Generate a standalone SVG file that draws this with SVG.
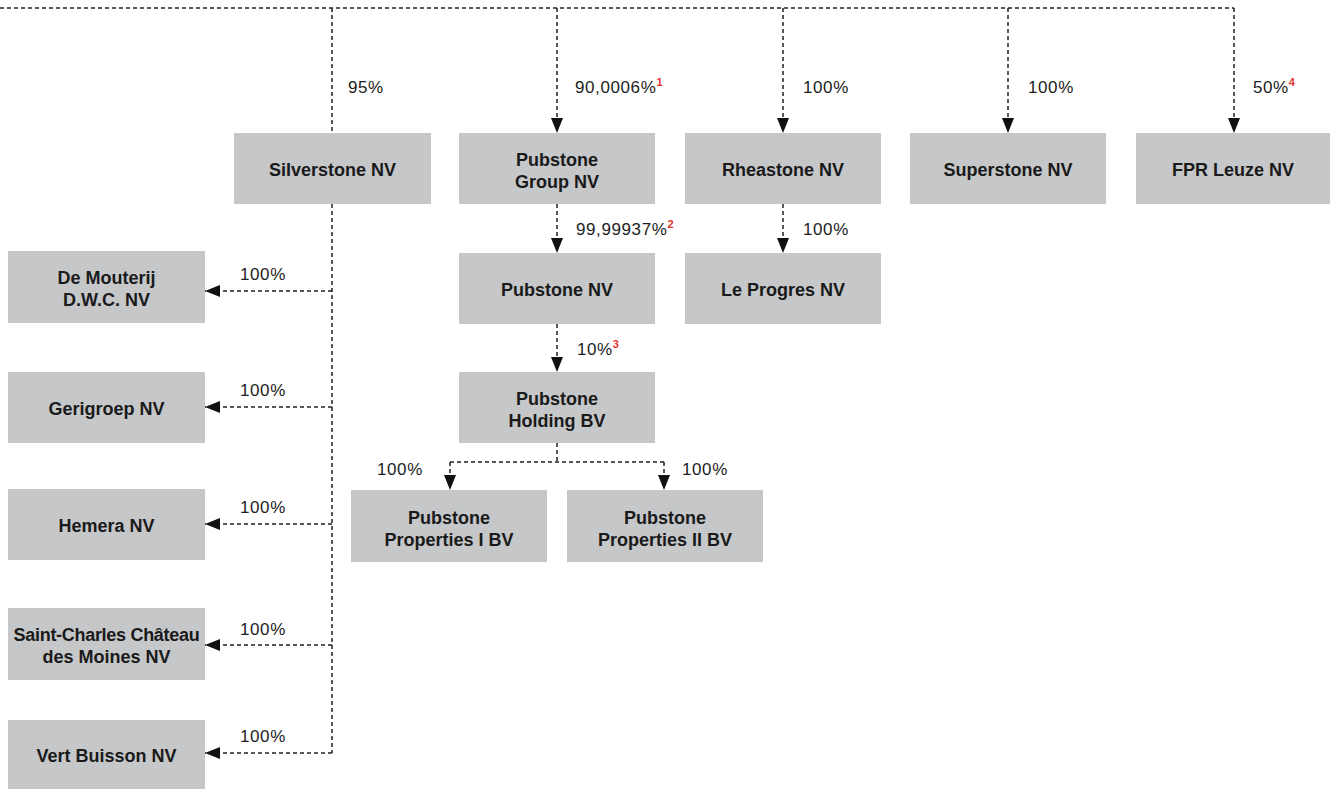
<svg xmlns="http://www.w3.org/2000/svg" width="1330" height="789" viewBox="0 0 1330 789">
<style>
.box{fill:#c6c7c9}
.name{font-family:"Liberation Sans",Arial,sans-serif;font-weight:bold;font-size:18px;fill:#1a1a1a;text-anchor:middle}
.pct{font-family:"Liberation Sans",Arial,sans-serif;font-size:17px;fill:#222;letter-spacing:0.6px}
.sup{font-size:11px;fill:#e3312d;font-weight:bold}
.ln{fill:none;stroke:#222;stroke-width:1.5;stroke-dasharray:4 3}
</style>
<defs>
<marker id="ah" viewBox="0 0 15 12" refX="15" refY="6" markerWidth="15" markerHeight="12" markerUnits="userSpaceOnUse" orient="auto">
<path d="M0,0 L15,6 L0,12 Z" fill="#111"/>
</marker>
</defs>
<rect width="1330" height="789" fill="#fff"/>
<g id="connectors">
<path class="ln" d="M0,8 H1234"/>
<path class="ln" d="M332,8 V133"/>
<path class="ln" d="M557,8 V133" marker-end="url(#ah)"/>
<path class="ln" d="M783,8 V133" marker-end="url(#ah)"/>
<path class="ln" d="M1008,8 V133" marker-end="url(#ah)"/>
<path class="ln" d="M1234,8 V133" marker-end="url(#ah)"/>
<path class="ln" d="M557,204 V253" marker-end="url(#ah)"/>
<path class="ln" d="M783,204 V253" marker-end="url(#ah)"/>
<path class="ln" d="M557,324 V372" marker-end="url(#ah)"/>
<path class="ln" d="M557,443 V462"/>
<path class="ln" d="M450,462 H664"/>
<path class="ln" d="M450,462 V490" marker-end="url(#ah)"/>
<path class="ln" d="M664,462 V490" marker-end="url(#ah)"/>
<path class="ln" d="M332,204 V753"/>
<path class="ln" d="M332,291 H205" marker-end="url(#ah)"/>
<path class="ln" d="M332,407 H205" marker-end="url(#ah)"/>
<path class="ln" d="M332,524 H205" marker-end="url(#ah)"/>
<path class="ln" d="M332,645 H205" marker-end="url(#ah)"/>
<path class="ln" d="M332,753 H205" marker-end="url(#ah)"/>
</g>
<g id="labels">
<text class="pct" x="348" y="93">95%</text>
<text class="pct" x="575" y="93">90,0006%<tspan class="sup" dy="-7">1</tspan></text>
<text class="pct" x="803" y="93">100%</text>
<text class="pct" x="1028" y="93">100%</text>
<text class="pct" x="1253" y="93">50%<tspan class="sup" dy="-7">4</tspan></text>
<text class="pct" x="576" y="235">99,99937%<tspan class="sup" dy="-7">2</tspan></text>
<text class="pct" x="803" y="235">100%</text>
<text class="pct" x="577" y="355">10%<tspan class="sup" dy="-7">3</tspan></text>
<text class="pct" x="377" y="475">100%</text>
<text class="pct" x="682" y="475">100%</text>
<text class="pct" x="240" y="280">100%</text>
<text class="pct" x="240" y="396">100%</text>
<text class="pct" x="240" y="513">100%</text>
<text class="pct" x="240" y="635">100%</text>
<text class="pct" x="240" y="742">100%</text>
</g>
<g id="silverstone"><rect class="box" x="234" y="133" width="197" height="71"/><text class="name" x="332.5" y="176">Silverstone NV</text></g>
<g id="pubstone-group"><rect class="box" x="459" y="133" width="196" height="71"/><text class="name" x="557" y="166">Pubstone</text><text class="name" x="557" y="188">Group NV</text></g>
<g id="rheastone"><rect class="box" x="685" y="133" width="196" height="71"/><text class="name" x="783" y="176">Rheastone NV</text></g>
<g id="superstone"><rect class="box" x="910" y="133" width="196" height="71"/><text class="name" x="1008" y="176">Superstone NV</text></g>
<g id="fpr-leuze"><rect class="box" x="1136" y="133" width="194" height="71"/><text class="name" x="1233" y="176">FPR Leuze NV</text></g>
<g id="pubstone-nv"><rect class="box" x="459" y="253" width="196" height="71"/><text class="name" x="557" y="296">Pubstone NV</text></g>
<g id="le-progres"><rect class="box" x="685" y="253" width="196" height="71"/><text class="name" x="783" y="296">Le Progres NV</text></g>
<g id="pubstone-holding"><rect class="box" x="459" y="372" width="196" height="71"/><text class="name" x="557" y="405">Pubstone</text><text class="name" x="557" y="427">Holding BV</text></g>
<g id="pubstone-properties-1"><rect class="box" x="351" y="490" width="196" height="72"/><text class="name" x="449" y="524">Pubstone</text><text class="name" x="449" y="546">Properties I BV</text></g>
<g id="pubstone-properties-2"><rect class="box" x="567" y="490" width="196" height="72"/><text class="name" x="665" y="524">Pubstone</text><text class="name" x="665" y="546">Properties II BV</text></g>
<g id="de-mouterij"><rect class="box" x="8" y="251" width="197" height="72"/><text class="name" x="106.5" y="284">De Mouterij</text><text class="name" x="106.5" y="306">D.W.C. NV</text></g>
<g id="gerigroep"><rect class="box" x="8" y="372" width="197" height="71"/><text class="name" x="106.5" y="415">Gerigroep NV</text></g>
<g id="hemera"><rect class="box" x="8" y="489" width="197" height="71"/><text class="name" x="106.5" y="532">Hemera NV</text></g>
<g id="saint-charles"><rect class="box" x="8" y="608" width="197" height="72"/><text class="name" x="106.5" y="641" letter-spacing="-0.3">Saint-Charles Château</text><text class="name" x="106.5" y="663">des Moines NV</text></g>
<g id="vert-buisson"><rect class="box" x="8" y="720" width="197" height="69"/><text class="name" x="106.5" y="762">Vert Buisson NV</text></g>
</svg>
